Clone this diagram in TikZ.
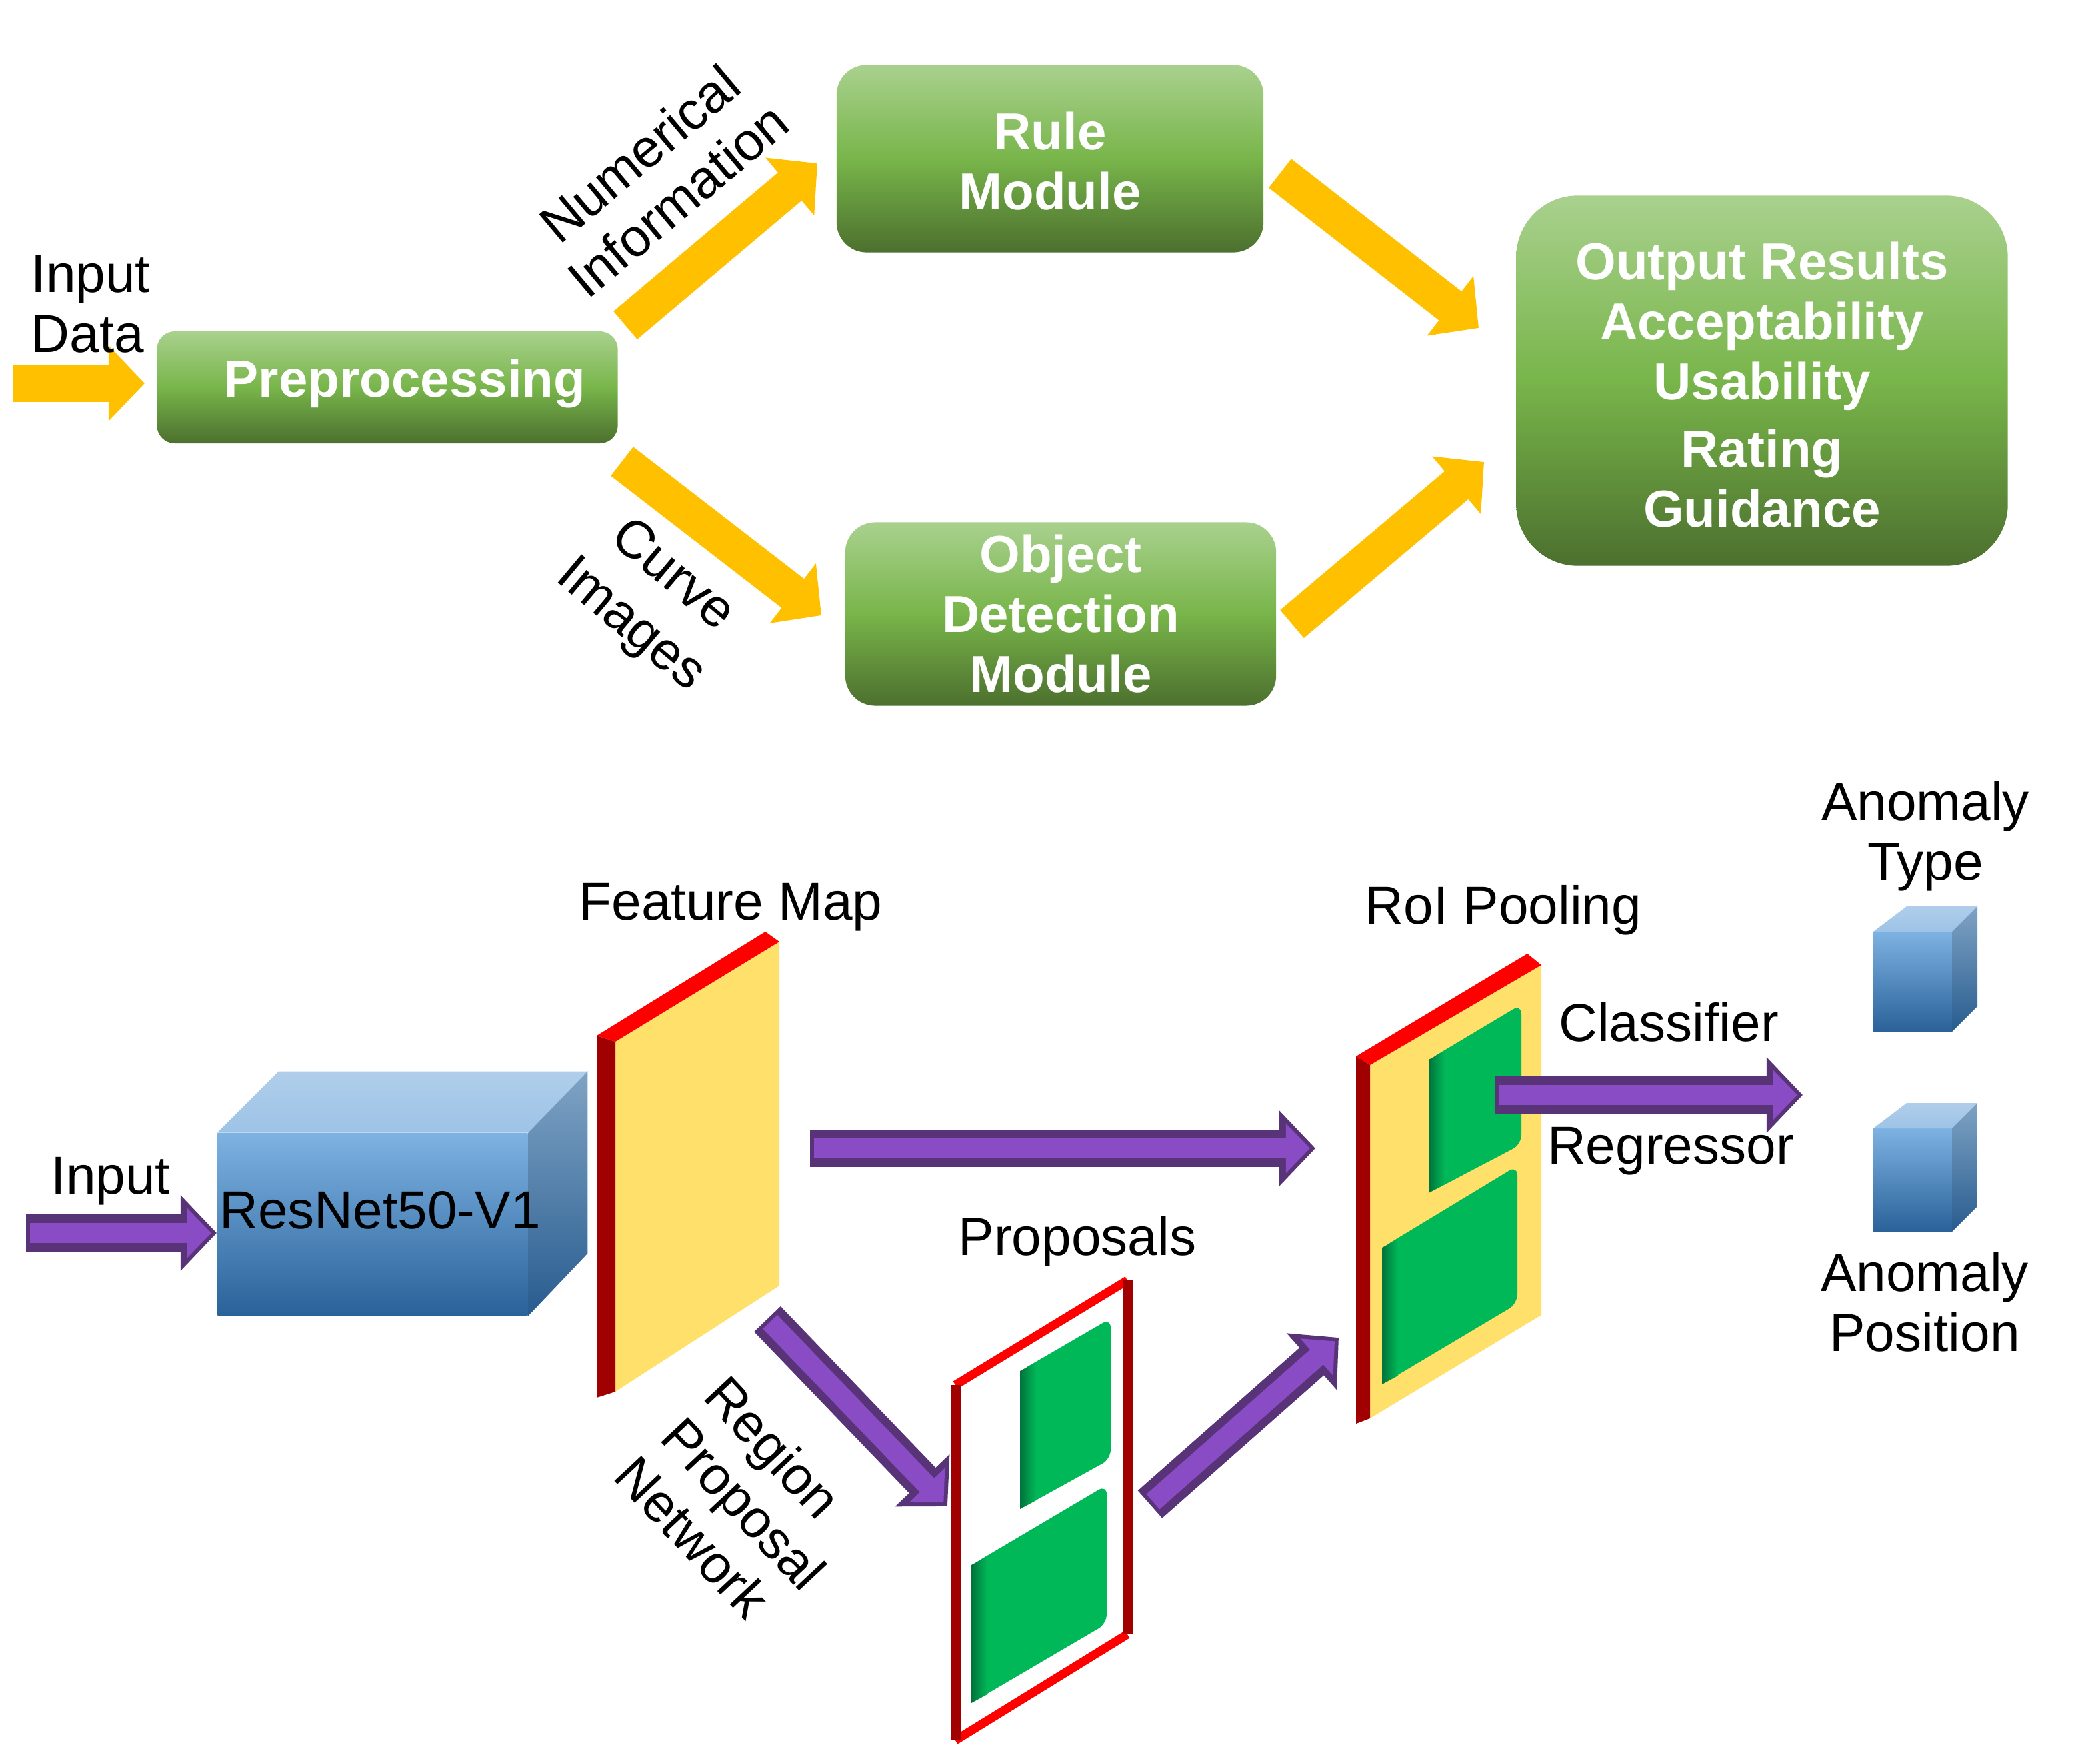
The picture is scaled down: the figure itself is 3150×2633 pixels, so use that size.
\documentclass[tikz,border=0pt]{standalone}
\usepackage{fontspec}
\setmainfont{Liberation Sans}
\usetikzlibrary{arrows.meta}
\definecolor{box-top}{HTML}{A9D18E}
\definecolor{box-mid}{HTML}{78B54A}
\definecolor{box-bot}{HTML}{4C702E}
\definecolor{arrow-gold}{HTML}{FFC000}
\definecolor{arrow-dark}{HTML}{583378}
\definecolor{arrow-light}{HTML}{8A4CC4}
\definecolor{map-yellow}{HTML}{FFE06B}
\definecolor{map-red}{HTML}{FF0000}
\definecolor{map-dark}{HTML}{A00000}
\definecolor{region-green}{HTML}{00B858}
\definecolor{region-dark}{HTML}{00723A}
\definecolor{cube-top}{HTML}{7DB2E2}
\definecolor{cube-bot}{HTML}{2A6299}
\definecolor{face-top}{HTML}{B0CEEB}
\definecolor{face-bot}{HTML}{9DC3E6}
\definecolor{side-top}{HTML}{7FA3C4}
\definecolor{side-bot}{HTML}{285C8F}
\tikzset{
  txt/.style={font=\fontsize{22.8}{25.6}\selectfont, inner sep=0pt},
  modbox/.style={font=\fontsize{22.2}{25.6}\selectfont\bfseries, inner sep=0pt, text=white, align=center, rounded corners=.45cm,
    top color=box-top, bottom color=box-bot, middle color=box-mid},
  goldarrow/.style={draw=arrow-gold, line width=.55cm, -{Triangle[length=.54cm,width=1.1cm]}},
  darkarrow/.style={draw=arrow-dark, line width=.55cm, -{Triangle[length=.54cm,width=1.1cm]}},
  lightarrow/.style={draw=arrow-light, line width=.3cm, -{Triangle[length=.36cm,width=.72cm]}}
}

\begin{document}
\begin{tikzpicture}[x=.01cm, y=-.01cm]
  \useasboundingbox (0,0) rectangle (3150,2633);

  % upper flow
  \node[modbox, rounded corners=.27cm, minimum width=6.91cm, minimum height=1.68cm] (prep) at (581,581) {\hspace*{.52cm}Preprocessing\rule[-.28cm]{0pt}{.1pt}};
  \node[modbox, minimum width=6.4cm, minimum height=2.81cm] (rule) at (1575,238) {\rule{0pt}{.63cm}Rule\\Module};
  \node[modbox, minimum width=6.46cm, minimum height=2.75cm] (obj) at (1591,921) {Object\\Detection\\Module};
  \node[modbox, rounded corners=.92cm, minimum width=7.37cm, minimum height=5.55cm] (out) at (2643,571) {\rule{0pt}{.69cm}Output Results\\Acceptability\\Usability\\[3pt]Rating\\Guidance};

  \coordinate (inA) at (20,575);
  \coordinate (inB) at (217,575);
  \coordinate (numA) at (938,488);
  \coordinate (numB) at (1226,245);
  \coordinate (curA) at (933,692);
  \coordinate (curB) at (1232,923);
  \coordinate (ruleA) at (1920,260);
  \coordinate (ruleB) at (2218,492);
  \coordinate (objA) at (1938,936);
  \coordinate (objB) at (2226,693);
  \foreach \a/\b in {inA/inB, numA/numB, curA/curB, ruleA/ruleB, objA/objB}
    \draw[goldarrow] (\a) -- (\b);

  \node[txt, align=left] (indata) at (136,456) {Input\\Data};
  \node[txt, align=center, rotate=40] (numinfo) at (988,265) {Numerical\\Information};
  \node[txt, align=center, rotate=-40] (curimg) at (976,902) {Curve\\[2pt]Images};

  % lower flow
  \node[minimum width=4.65cm, minimum height=2.73cm, inner sep=0pt, top color=cube-top, bottom color=cube-bot] (resnet) at (559,1837) {};
  \path[top color=face-top, bottom color=face-bot] (resnet.north west) -- ++(92,-92) -- ++(465,0) -- (resnet.north east) -- cycle;
  \path[top color=side-top, bottom color=side-bot] (resnet.north east) -- ++(89,-92) -- ++(0,273) -- (resnet.south east) -- cycle;
  \node[txt, anchor=base] (resnetlbl) at (570,1843) {ResNet50-V1};

  % feature map
  \fill[map-yellow] (923,1563) -- (1169,1413) -- (1169,1929) -- (923,2088) -- cycle;
  \fill[map-red] (895,1554) -- (1148,1398) -- (1169,1413) -- (923,1563) -- cycle;
  \fill[map-dark] (895,1554) -- (923,1563) -- (923,2088) -- (895,2097) -- cycle;

  % proposals
  \draw[map-red, line width=.13cm, line cap=square] (1433,2078) -- (1691,1921) (1691,2452) -- (1433,2611);
  \draw[map-dark, line width=.15cm, line cap=square] (1433,2078) -- (1433,2611) (1691,1921) -- (1691,2452);

  % roi pooling
  \fill[map-yellow] (2055,1598) -- (2312,1448) -- (2312,1973) -- (2055,2128) -- cycle;
  \fill[map-red] (2034,1585) -- (2291,1431) -- (2312,1448) -- (2055,1598) -- cycle;
  \fill[map-dark] (2034,1585) -- (2055,1598) -- (2055,2128) -- (2034,2136) -- cycle;

  % green regions
  \foreach \xa/\ya/\xb/\yb/\yc/\yd in {1530/2057/1666/1978/2189/2264, 1457/2348/1660/2228/2436/2555, 2143/1590/2282/1507/1717/1790, 2073/1872/2276/1749/1956/2077} {
    \fill[region-green, rounded corners=.14cm] (\xa,\ya) -- (\xb,\yb) -- (\xb,\yc) -- (\xa,\yd) -- cycle;
    \shade[left color=region-dark, right color=region-green] (\xa,\ya) -- ({\xa+24},{\ya-13}) -- ({\xa+24},{\yd-13}) -- (\xa,\yd) -- cycle;
  }

  % small cubes
  \foreach \yt/\yb in {1398/1548, 1693/1848} {
    \path[top color=cube-top, bottom color=cube-bot] (2810,\yt) rectangle (2928,\yb);
    \path[top color=face-top, bottom color=face-bot] (2810,\yt) -- (2860,{\yt-38}) -- (2966,{\yt-38}) -- (2928,\yt) -- cycle;
    \path[top color=side-top, bottom color=side-bot] (2928,\yt) -- (2966,{\yt-38}) -- (2966,{\yb-38}) -- (2928,\yb) -- cycle;
  }

  \coordinate (srcA) at (39,1850);
  \coordinate (srcB) at (325,1850);
  \coordinate (mapA) at (1215,1723);
  \coordinate (mapB) at (1973,1723);
  \coordinate (rpnA) at (1151,1979);
  \coordinate (rpnB) at (1421,2260);
  \coordinate (propA) at (1725,2257);
  \coordinate (propB) at (2008,2007);
  \coordinate (clsA) at (2242,1643);
  \coordinate (clsB) at (2704,1643);
  \foreach \a/\b in {srcA/srcB, mapA/mapB, rpnA/rpnB, propA/propB, clsA/clsB} {
    \draw[darkarrow] (\a) -- (\b);
    \draw[lightarrow, shorten >=.08cm, shorten <=.06cm] (\a) -- (\b);
  }

  \node[txt, anchor=base] (inputlbl) at (166,1791) {Input};
  \node[txt, anchor=base] (maplbl) at (1096,1380) {Feature Map};
  \node[txt, anchor=base] (roilbl) at (2255,1386) {RoI Pooling};
  \node[txt, anchor=base] (clslbl) at (2503,1562) {Classifier};
  \node[txt, anchor=base] (reglbl) at (2506,1746) {Regressor};
  \node[txt, anchor=base] (proplbl) at (1616,1883) {Proposals};
  \node[txt, align=center] (typelbl) at (2888,1255) {Anomaly\\Type};
  \node[txt, align=center] (poslbl) at (2887,1954) {Anomaly\\Position};
  \node[txt, align=center, rotate=-47] (rpnlbl) at (1105,2244) {Region\hspace*{.32cm}\\\hspace*{.32cm}Proposal\\Network};
\end{tikzpicture}
\end{document}
